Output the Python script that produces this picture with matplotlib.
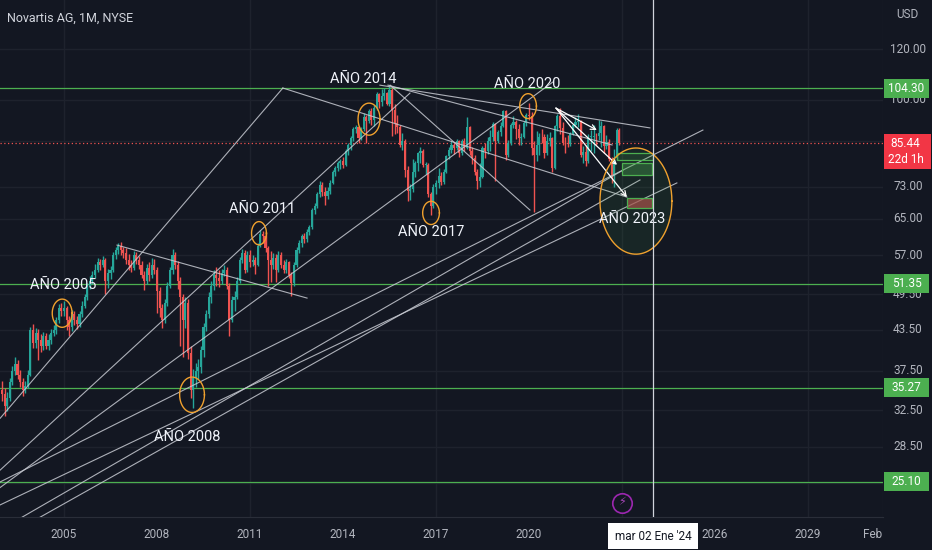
import numpy as np
import pandas as pd
import matplotlib
matplotlib.use("Agg")
import matplotlib.pyplot as plt
from matplotlib.patches import Rectangle

plt.rcParams['font.family'] = ['Roboto', 'DejaVu Sans']

# Monthly candles NVS, Jan 2003 .. Dec 2022
start_month = "2003-01"
first_open = 35.0
closes = [
    34.5, 33, 34, 36, 37.5, 38.5, 37, 36, 35, 35.5, 37, 43.5,          # 2003
    41.5, 43, 42, 41, 42.5, 41, 42, 43, 43.5, 45, 47, 46.5,            # 2004
    47, 45, 44, 46, 45, 44.5, 46, 47.5, 49, 51, 52, 53,                # 2005
    54, 55.5, 55, 56, 52, 53.5, 54, 57, 58, 59, 58, 57.5,              # 2006
    56, 55, 54.5, 57, 56, 55, 53, 52, 54.5, 53, 55, 54,                # 2007
    50, 47, 45, 48, 51, 54, 57, 55, 52, 49, 45, 48,                    # 2008
    40, 35, 36.5, 37.5, 38, 40.5, 44, 46, 49, 51, 53, 52.5,            # 2009
    52, 53.5, 54, 51, 45, 48.5, 49, 52, 56, 57.5, 54, 57,              # 2010
    55.5, 56, 55, 59, 61.5, 61, 58.5, 56, 55, 56.5, 54, 57,            # 2011
    55, 54, 55.5, 53, 51.5, 55, 58, 59.5, 61, 60.5, 62, 63,            # 2012
    67, 68, 71, 73.5, 71.5, 70.5, 72, 74, 77, 78, 79.5, 80,            # 2013
    79, 83, 85, 87, 90, 90.5, 87, 90, 94, 92.5, 96, 93,                # 2014
    97, 102, 99, 101.5, 102.5, 98.5, 103.5, 96.5, 92, 90.5, 85, 86,    # 2015
    77.5, 72, 72.5, 77, 79.5, 82.5, 83, 79, 79, 71, 68, 73,            # 2016
    74, 76, 74.3, 77, 81.6, 83.5, 85, 84, 86, 82.5, 86, 84,            # 2017
    90.5, 83, 81, 77, 74.5, 75.5, 84, 83, 86, 87.5, 91.5, 86,          # 2018
    89, 91, 96, 82, 85.5, 91.3, 92.3, 90, 87, 87.4, 92, 94.7,          # 2019
    94.4, 84, 82, 85, 87.5, 87.3, 82.6, 86, 87, 78, 90.8, 94.4,        # 2020
    90.4, 85.6, 85.5, 85.2, 88.3, 91.2, 92.3, 92.5, 81.8, 82.7, 80, 87.5,  # 2021
    87.5, 87.8, 87.7, 88.5, 91, 84.5, 85.8, 80.6, 76, 81, 89.5, 85.44,     # 2022
]
highs = [
    36.2, 35.3, 34.8, 36.6, 38.2, 39.4, 39.0, 37.6, 36.5, 36.2, 37.6, 44.0,
    44.5, 43.8, 43.6, 42.8, 43.2, 43.0, 42.8, 43.6, 44.2, 45.6, 47.8, 48.0,
    48.2, 47.5, 45.8, 46.8, 46.6, 45.8, 46.6, 48.2, 49.6, 51.5, 52.8, 53.8,
    55.2, 56.4, 56.2, 56.8, 56.5, 54.2, 54.8, 57.6, 58.6, 59.6, 59.8, 58.6,
    58.4, 57.2, 56.0, 57.8, 57.6, 56.8, 55.8, 53.8, 55.2, 55.6, 56.4, 56.2,
    54.6, 50.8, 47.8, 48.6, 51.8, 54.6, 58.2, 57.6, 55.8, 52.6, 49.6, 49.0,
    48.6, 41.0, 37.8, 38.6, 39.2, 41.0, 44.6, 46.8, 49.8, 52.0, 54.0, 54.6,
    54.0, 54.2, 55.0, 54.6, 51.6, 49.2, 50.0, 52.6, 56.6, 58.2, 58.0, 57.8,
    58.0, 57.0, 56.6, 59.6, 62.5, 62.2, 62.0, 59.0, 57.8, 57.4, 57.2, 57.8,
    57.6, 56.0, 56.2, 55.8, 53.6, 55.6, 58.6, 60.2, 61.6, 61.8, 62.6, 63.6,
    67.6, 68.8, 71.6, 74.6, 74.2, 73.0, 72.8, 74.8, 77.6, 78.8, 80.2, 80.6,
    81.4, 83.8, 85.6, 87.8, 90.6, 91.4, 91.0, 90.6, 95.2, 94.6, 96.6, 97.2,
    98.0, 102.8, 102.6, 104.0, 104.5, 103.0, 105.0, 104.2, 98.4, 94.6, 91.4, 88.6,
    86.8, 78.6, 73.6, 80.6, 80.0, 82.8, 84.2, 83.8, 79.8, 79.4, 71.6, 73.8,
    74.8, 78.0, 77.0, 77.8, 82.0, 84.4, 86.0, 85.6, 86.6, 86.4, 86.8, 87.0,
    93.8, 90.8, 84.2, 81.8, 77.8, 79.4, 84.6, 85.4, 87.4, 89.6, 92.4, 92.0,
    89.6, 92.2, 96.4, 96.2, 86.4, 92.0, 94.2, 93.0, 91.6, 88.6, 92.6, 95.2,
    98.7, 95.6, 86.0, 89.4, 88.6, 89.8, 88.2, 88.4, 89.0, 87.4, 91.4, 95.0,
    97.0, 92.4, 87.4, 88.0, 89.0, 91.6, 94.0, 95.0, 93.0, 84.6, 84.8, 88.4,
    89.6, 91.4, 88.8, 93.0, 92.6, 91.2, 88.0, 86.8, 81.2, 83.6, 90.4, 90.2,
]
lows = [
    33.6, 31.8, 32.4, 33.6, 35.6, 37.0, 36.4, 35.4, 34.3, 34.6, 35.2, 36.8,
    40.8, 40.8, 39.0, 40.2, 40.4, 40.6, 40.5, 41.4, 42.6, 42.8, 44.6, 45.8,
    45.8, 43.5, 42.6, 43.4, 44.3, 43.7, 44.0, 45.5, 47.0, 48.4, 50.4, 51.4,
    52.4, 53.6, 54.0, 54.6, 49.5, 50.6, 52.2, 53.6, 56.2, 57.2, 57.0, 56.4,
    55.2, 54.0, 53.6, 54.0, 55.2, 54.2, 52.4, 50.2, 51.4, 52.0, 52.4, 53.2,
    46.2, 45.6, 43.8, 44.6, 47.4, 50.6, 53.2, 54.2, 50.4, 41.0, 39.5, 43.8,
    39.2, 34.0, 32.8, 35.4, 36.4, 37.2, 39.4, 43.4, 45.4, 48.0, 50.2, 51.0,
    50.8, 51.4, 52.8, 50.4, 42.5, 44.8, 46.6, 48.6, 51.6, 55.4, 53.4, 53.6,
    54.6, 54.8, 53.2, 54.8, 58.6, 59.6, 57.6, 51.0, 51.8, 54.2, 51.8, 53.6,
    54.4, 53.4, 53.4, 52.4, 49.2, 51.0, 54.6, 57.4, 58.8, 59.6, 59.8, 61.2,
    62.6, 66.2, 67.6, 70.4, 70.6, 68.4, 69.8, 71.2, 73.6, 75.8, 77.2, 77.8,
    78.2, 78.6, 82.0, 83.4, 86.2, 88.8, 85.4, 86.4, 89.4, 85.6, 91.8, 91.4,
    91.0, 96.4, 97.0, 97.6, 100.0, 98.0, 97.8, 87.6, 88.2, 88.6, 84.2, 83.4,
    75.6, 69.4, 69.6, 71.6, 75.6, 77.2, 79.6, 78.4, 76.4, 70.4, 66.0, 67.6,
    71.0, 72.6, 73.4, 73.8, 76.6, 80.6, 82.6, 82.2, 83.4, 81.4, 81.8, 83.2,
    83.6, 82.0, 79.2, 76.2, 72.4, 73.0, 75.2, 81.0, 82.2, 83.0, 86.2, 74.4,
    85.4, 87.8, 90.6, 80.4, 81.2, 85.0, 90.2, 86.6, 85.0, 84.8, 87.0, 91.0,
    93.0, 82.0, 66.5, 80.0, 81.8, 85.4, 81.0, 81.8, 84.6, 77.0, 77.8, 89.4,
    88.4, 84.8, 82.6, 84.4, 84.6, 88.0, 90.6, 90.6, 81.2, 79.4, 78.6, 79.6,
    83.2, 82.6, 84.8, 86.4, 84.2, 82.6, 83.8, 80.0, 74.0, 73.0, 80.4, 84.8,
]

# support levels and last price
levels = [104.30, 51.35, 35.27, 25.10]
last_price = 85.44
countdown = "22d 1h"
price_ticks = [120, 100, 86, 73, 65, 57, 49.5, 43.5, 37.5, 32.5, 28.5, 25]
hidden_ticks = [86, 25]   # covered by the price boxes
year_ticks = [2005, 2008, 2011, 2014, 2017, 2020, 2023, 2026, 2029, 2031.08]
year_labels = ["2005", "2008", "2011", "2014", "2017", "2020", "", "2026", "2029", "Feb"]
grid_years = [2005, 2011, 2017, 2023, 2029]

# drawings: (year, price) pairs
trend_lines = [
    ((2002.94, 31.6), (2012.06, 104.3)),
    ((2012.06, 104.3), (2023.16, 70.3)),
    ((2002.94, 26.2), (2016.16, 102.4)),
    ((2002.94, 24.6), (2020.77, 106.6)),
    ((2006.71, 59.1), (2012.84, 48.8)),
    ((2002.94, 25.1), (2025.61, 89.6)),
    ((2002.94, 23.1), (2024.77, 74.0)),
    ((2003.58, 22.0), (2023.03, 77.5)),
    ((2004.16, 22.0), (2023.58, 74.8)),
    ((2015.19, 105.4), (2023.90, 90.3)),
    ((2015.45, 105.4), (2022.68, 84.9)),
    ((2015.52, 105.4), (2020.03, 67.1)),
]
arrow_start = (2020.87, 97.0)
arrow_ends = [(2022.19, 89.6), (2022.84, 79.0), (2023.16, 70.3)]
boxes = [  # year0, year1, price0, price1, face, alpha
    (2022.84, 2024.0, 80.4, 82.4, '#4caf50', 0.15),
    (2023.00, 2023.97, 76.2, 79.5, '#4caf50', 0.35),
    (2023.16, 2023.97, 67.6, 70.1, '#b24a4a', 0.7),
]
circles = [  # year, price, half width (years), half height (ln units)
    (2004.94, 46.2, 0.32, 0.051),
    (2009.13, 34.4, 0.40, 0.064),
    (2011.29, 61.7, 0.24, 0.042),
    (2014.84, 93.2, 0.355, 0.058),
    (2016.84, 66.4, 0.27, 0.042),
    (2019.97, 97.7, 0.27, 0.045),
    (2023.45, 69.3, 1.16, 0.192),
]
notes = [
    ("AÑO 2005", 2004.97, 51.2), ("AÑO 2008", 2008.97, 29.5),
    ("AÑO 2011", 2011.39, 67.3), ("AÑO 2014", 2014.65, 107.7),
    ("AÑO 2017", 2016.84, 62.0), ("AÑO 2020", 2019.94, 105.8),
    ("AÑO 2023", 2023.32, 65.0),
]
cursor_year = 2024.0
cursor_label = "mar 02 Ene '24"
event_mark = (2023.0, 23.3)

bg = '#131722'
grid_c = '#1e222d'
txt_c = '#b2b5be'
up_c, dn_c = '#26a69a', '#ef5350'
green = '#4caf50'

dates = pd.date_range(start_month, periods=len(closes), freq='MS')
x = dates.year + (dates.month - 1) / 12.0
c = np.array(closes, dtype=float)
o = np.concatenate([[first_open], c[:-1]])
h = np.array(highs)
l = np.array(lows)
cols = np.where(c >= o, up_c, dn_c)

fig = plt.figure(figsize=(9.32, 5.5), dpi=100, facecolor=bg)
ax = fig.add_axes([0, 33 / 550, 883 / 932, 517 / 550])
pax = fig.add_axes([883 / 932, 33 / 550, 49 / 932, 517 / 550], sharey=ax)
for a in (ax, pax):
    a.set_facecolor(bg)
    for s in a.spines.values():
        s.set_visible(False)

xmin, xmax = 2002.935, 2031.42
ax.set_yscale('log')
ax.set_ylim(22.11, 143.4)
ax.set_xlim(xmin, xmax)
ax.yaxis.set_major_locator(matplotlib.ticker.FixedLocator(price_ticks))
ax.yaxis.set_minor_locator(matplotlib.ticker.NullLocator())
ax.tick_params(axis='y', length=0, labelleft=False)
ax.grid(True, axis='y', color=grid_c, lw=1)
for gy in grid_years:
    ax.axvline(gy, color=grid_c, lw=1, zorder=0)
ax.set_xticks(year_ticks)
ax.set_xticklabels(year_labels)
ax.tick_params(axis='x', length=0, pad=8, colors=txt_c, labelsize=8.5)
ax.spines['bottom'].set_visible(True)
ax.spines['bottom'].set_color('#2a2e39')
ax.spines['right'].set_visible(True)
ax.spines['right'].set_color('#2a2e39')

# candles
ax.vlines(x, l, h, colors=cols, lw=1.0, zorder=3)
body = np.maximum(np.abs(c - o), 0.15)
ax.bar(x, body, bottom=np.minimum(o, c), width=0.068, color=cols, lw=0, zorder=3)

# levels
for lv in levels:
    ax.axhline(lv, color=green, lw=0.9, zorder=2)
ax.axhline(last_price, color=dn_c, lw=0.9, ls=(0, (1, 2)), zorder=2)

# drawings
for (x0, y0), (x1, y1) in trend_lines:
    ax.plot([x0, x1], [y0, y1], color='#c8cbd3', lw=0.8, alpha=0.85, zorder=4)
for ex, ey in arrow_ends:
    ax.annotate('', xy=(ex, ey), xytext=arrow_start,
                arrowprops=dict(arrowstyle='->', color='white', lw=0.9,
                                shrinkA=0, shrinkB=0, mutation_scale=9), zorder=5)
for y0, y1, p0, p1, fc, al in boxes:
    ax.add_patch(Rectangle((y0, p0), y1 - y0, p1 - p0, facecolor=fc, alpha=al,
                           edgecolor='none', zorder=4))
    ax.add_patch(Rectangle((y0, p0), y1 - y0, p1 - p0, facecolor='none',
                           edgecolor=green, lw=0.9, zorder=4))
t = np.linspace(0, 2 * np.pi, 200)
for i, (cx, cp, rx, ry) in enumerate(circles):
    xs = cx + rx * np.cos(t)
    ys = cp * np.exp(ry * np.sin(t))
    if i == len(circles) - 1:
        ax.fill(xs, ys, color=green, alpha=0.1, lw=0, zorder=4)
    ax.plot(xs, ys, color='#f0a12e', lw=1.0, zorder=5)
for txt, tx, ty in notes:
    ax.text(tx, ty, txt, color='#f0f3fa', fontsize=10.5, ha='center', va='center', zorder=6)

ax.text(0.008, 1 - 18 / 517, 'Novartis AG, 1M, NYSE', transform=ax.transAxes,
        color='#d1d4dc', fontsize=9, ha='left', va='center')

# event marker and cursor
ax.plot([event_mark[0]], [event_mark[1]], 'o', ms=14, mfc=bg, mec='#9c27b0', mew=1.2, zorder=6)
ax.text(event_mark[0], event_mark[1], '⚡', family=['DejaVu Sans'], color='#ab47bc',
        fontsize=8, ha='center', va='center', zorder=7)
ax.axvline(cursor_year, color='#d1d4dc', lw=0.9, zorder=6)
fig.text((cursor_year - xmin) / (xmax - xmin) * 883 / 932, 1 - 536 / 550,
         cursor_label, ha='center', va='center', fontsize=8.5, color='#131722',
         bbox=dict(boxstyle='square,pad=0.55', fc='white', ec='none'))

# price scale
pax.set_xlim(0, 1)
pax.tick_params(left=False, bottom=False, labelleft=False, labelbottom=False)
pax.grid(False)
for pt in price_ticks:
    if pt in hidden_ticks:
        continue
    pax.text(0.51, pt, f'{pt:.2f}', color=txt_c, fontsize=8.5, ha='center', va='center')
pax.text(0.5, 1 - 15 / 517, 'USD', transform=pax.transAxes, color=txt_c,
         fontsize=8.5, ha='center', va='center')
hh = 9.5 / 276.6
for lv in levels:
    pax.add_patch(Rectangle((0.02, lv * np.exp(-hh)), 0.92, lv * (np.exp(hh) - np.exp(-hh)),
                            facecolor=green, edgecolor='none', zorder=5))
    pax.text(0.48, lv, f'{lv:.2f}', color='white', fontsize=8.5, ha='center', va='center', zorder=6)
top = last_price * np.exp(9.5 / 276.6)
bot = last_price * np.exp(-26 / 276.6)
pax.add_patch(Rectangle((0.02, bot), 0.96, top - bot, facecolor='#f23645', edgecolor='none', zorder=5))
pax.text(0.46, last_price, f'{last_price:.2f}', color='white', fontsize=8.5,
         ha='center', va='center', zorder=6)
pax.text(0.46, last_price * np.exp(-16.5 / 276.6), countdown, color='white', fontsize=8.5,
         ha='center', va='center', zorder=6)

fig.savefig('out.png', dpi=100, facecolor=bg)
